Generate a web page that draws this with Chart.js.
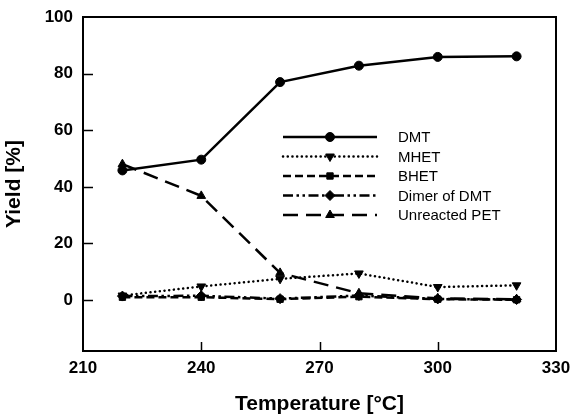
<!DOCTYPE html>
<html>
<head>
<meta charset="utf-8">
<script src="https://cdn.jsdelivr.net/npm/chart.js@4.4.0/dist/chart.umd.min.js"></script>
<style>
html,body{margin:0;padding:0;background:#fff;}
#wrap{width:570px;height:418px;}
</style>
</head>
<body>
<div id="wrap"><canvas id="c" width="570" height="418"></canvas></div>
<script>
const temperatures = [220, 240, 260, 280, 300, 320];
const dmt   = [45.8, 49.6, 77.0, 82.8, 85.9, 86.1];
const mhet  = [1.6, 4.8, 7.5, 9.4, 4.6, 5.2];
const bhet  = [1.0, 1.0, 0.3, 1.2, 0.3, 0.1];
const dimer = [1.4, 1.5, 0.5, 1.6, 0.4, 0.2];
const pet   = [48.0, 36.8, 9.6, 2.4, 0.6, 0.3];
const seriesNames = ["DMT", "MHET", "BHET", "Dimer of DMT", "Unreacted PET"];
const xTicks = [210, 240, 270, 300, 330];
const yTicks = [0, 20, 40, 60, 80, 100];

const FONT = '"Liberation Sans", Arial, sans-serif';
const pts = arr => temperatures.map((t, i) => ({x: t, y: arr[i]}));

const styles = [
  {dash: [], cap: 'butt', point: 'circle', rot: 0, r: 4.5},
  {dash: [0.1, 4.6], cap: 'round', point: 'triangle', rot: 180, r: 5},
  {dash: [8, 4], cap: 'butt', point: 'rect', rot: 0, r: 4.5},
  {dash: [10, 3.5, 2.5, 3.5, 2.5, 3.5], cap: 'butt', point: 'rectRot', rot: 0, r: 5},
  {dash: [15, 8], cap: 'butt', point: 'triangle', rot: 0, r: 5}
];
const seriesData = [dmt, mhet, bhet, dimer, pet];

const datasets = seriesData.map((arr, i) => ({
  label: seriesNames[i],
  data: pts(arr),
  borderColor: '#000',
  backgroundColor: '#000',
  borderWidth: 2.5,
  borderDash: styles[i].dash,
  borderCapStyle: styles[i].cap,
  pointStyle: styles[i].point,
  pointRotation: styles[i].rot,
  pointRadius: styles[i].r,
  pointBorderWidth: 1,
  pointBackgroundColor: '#000',
  pointBorderColor: '#000',
  tension: 0,
  clip: false
}));

const framePlugin = {
  id: 'frame',
  afterDatasetsDraw(chart) {
    const ctx = chart.ctx, a = chart.chartArea;
    const xs = chart.scales.x, ys = chart.scales.y;
    ctx.save();
    ctx.strokeStyle = '#000';
    ctx.lineWidth = 2;
    ctx.strokeRect(a.left, a.top, a.right - a.left, a.bottom - a.top);
    ctx.lineWidth = 1.5;
    ctx.beginPath();
    xTicks.forEach(v => {
      if (v === xs.min || v === xs.max) return;
      const px = Math.round(xs.getPixelForValue(v)) + 0.5;
      ctx.moveTo(px, a.bottom);
      ctx.lineTo(px, a.bottom - 9);
    });
    yTicks.forEach(v => {
      if (v === ys.max) return;
      const py = Math.round(ys.getPixelForValue(v)) + 0.5;
      ctx.moveTo(a.left, py);
      ctx.lineTo(a.left + 10, py);
    });
    ctx.stroke();
    // legend
    const x0 = 283, x1 = 377, tx = 398, y0 = 137, dy = 19.5;
    ctx.font = '15px ' + FONT;
    ctx.textBaseline = 'middle';
    ctx.fillStyle = '#000';
    chart.data.datasets.forEach((ds, i) => {
      const y = y0 + i * dy;
      ctx.save();
      ctx.strokeStyle = '#000';
      ctx.lineWidth = ds.borderWidth;
      ctx.lineCap = ds.borderCapStyle;
      ctx.setLineDash(ds.borderDash);
      ctx.beginPath();
      ctx.moveTo(x0, y);
      ctx.lineTo(x1, y);
      ctx.stroke();
      ctx.restore();
      ctx.save();
      ctx.fillStyle = '#000';
      ctx.strokeStyle = '#000';
      ctx.lineWidth = 1;
      Chart.helpers.drawPoint(ctx, {pointStyle: ds.pointStyle, rotation: ds.pointRotation, radius: ds.pointRadius, borderWidth: 1}, (x0 + x1) / 2, y);
      ctx.restore();
      ctx.fillText(ds.label, tx, y + 1);
    });
    ctx.restore();
  }
};

new Chart(document.getElementById('c'), {
  type: 'line',
  data: {datasets},
  options: {
    responsive: false,
    animation: false,
    devicePixelRatio: 1,
    layout: {padding: {top: 17, right: 14, left: 0, bottom: 0}},
    plugins: {legend: {display: false}, tooltip: {enabled: false}},
    scales: {
      x: {
        type: 'linear', min: 210, max: 330,
        afterBuildTicks: s => { s.ticks = xTicks.map(v => ({value: v})); },
        afterFit: s => { s.height = 67; s.paddingLeft = 0; s.paddingRight = 0; },
        grid: {display: false, drawTicks: false},
        border: {display: true, color: '#000', width: 2},
        ticks: {color: '#000', font: {family: FONT, size: 17, weight: 'bold'}, padding: 7, maxRotation: 0},
        title: {display: true, text: 'Temperature [°C]', color: '#000', font: {family: FONT, size: 21, weight: 'bold'}, padding: {top: 0, bottom: 1}}
      },
      y: {
        min: -18, max: 100,
        afterBuildTicks: s => { s.ticks = yTicks.map(v => ({value: v})); },
        afterFit: s => { s.width = 83; s.paddingTop = 0; s.paddingBottom = 0; },
        grid: {display: false, drawTicks: false},
        border: {display: true, color: '#000', width: 2},
        ticks: {color: '#000', font: {family: FONT, size: 17, weight: 'bold'}, padding: 10},
        title: {display: true, text: 'Yield [%]', color: '#000', font: {family: FONT, size: 21, weight: 'bold'}, padding: {top: 2, bottom: 0}}
      }
    }
  },
  plugins: [framePlugin]
});
</script>
</body>
</html>
